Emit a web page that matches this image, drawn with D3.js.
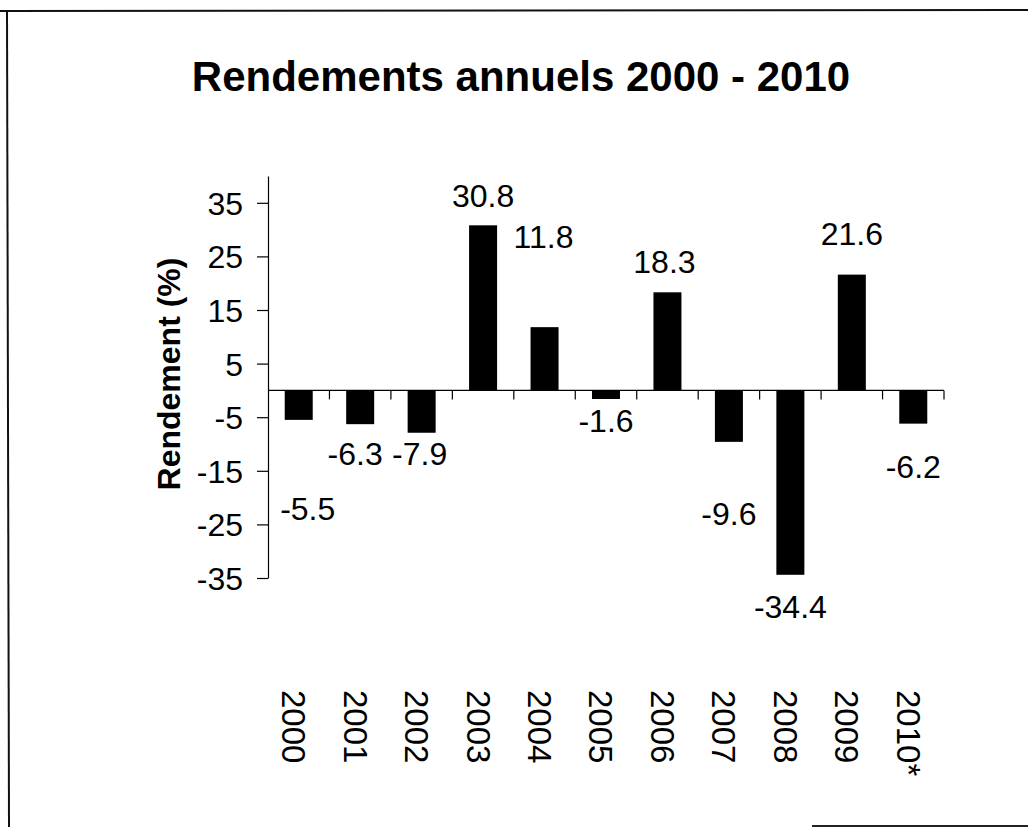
<!DOCTYPE html>
<html lang="fr">
<head>
<meta charset="UTF-8">
<title>Rendements annuels 2000 - 2010</title>
<script src="https://d3js.org/d3.v7.min.js"></script>
<style>
    body { margin: 0; background: #fff; }
    svg text { font-family: "Liberation Sans", Arial, sans-serif; fill: #000; }
</style>
</head>
<body>
<script>
    // data
    var years = ["2000", "2001", "2002", "2003", "2004", "2005", "2006", "2007", "2008", "2009", "2010*"];
    var returns = [-5.5, -6.3, -7.9, 30.8, 11.8, -1.6, 18.3, -9.6, -34.4, 21.6, -6.2];
    var yTicks = [-35, -25, -15, -5, 5, 15, 25, 35];

    // hand nudges for the value labels (the original moved them around)
    var labelDx = [9, -5, -2, 0, -1, 0, -3, 0, 0, 0, 0];
    var labelDy = [100, 41, 32, -18, -79, 33, -19, 83, 43, -30, 54];

    var width = 1028, height = 827;

    var svg = d3.select("body").append("svg")
        .attr("width", width)
        .attr("height", height);

    // frame of the scan: top, left and a piece of bottom
    svg.append("line").attr("x1", 0).attr("x2", width).attr("y1", 11).attr("y2", 10)
        .attr("stroke", "#111").attr("stroke-width", 2);
    svg.append("line").attr("x1", 7).attr("x2", 9).attr("y1", 10).attr("y2", height)
        .attr("stroke", "#111").attr("stroke-width", 2);
    svg.append("line").attr("x1", 812).attr("x2", width).attr("y1", 826).attr("y2", 826)
        .attr("stroke", "#222").attr("stroke-width", 2);

    svg.append("text")
        .attr("x", 521)
        .attr("y", 91)
        .attr("text-anchor", "middle")
        .attr("font-size", "42px")
        .attr("font-weight", "bold")
        .text("Rendements annuels 2000 - 2010");

    var x = d3.scaleBand()
        .domain(years)
        .range([268, 944])
        .paddingInner(0)
        .paddingOuter(0);

    var y = d3.scaleLinear()
        .domain([-35, 40])
        .range([578, 176]);

    var barWidth = 28;

    // y axis (plain hyphen for negatives, as in the original)
    var yAxis = svg.append("g")
        .attr("transform", "translate(268,0)")
        .call(d3.axisLeft(y)
            .tickValues(yTicks)
            .tickFormat(function (d) { return String(d); })
            .tickSize(11).tickPadding(14).tickSizeOuter(0));
    yAxis.select(".domain").attr("stroke", "#000").attr("stroke-width", 1.2);
    yAxis.selectAll(".tick line").attr("stroke", "#000").attr("stroke-width", 1.2);
    yAxis.selectAll(".tick text")
        .attr("font-size", "32px")
        .attr("font-family", "Liberation Sans, Arial, sans-serif")
        .attr("dy", "0.36em");

    svg.append("text")
        .attr("transform", "translate(180,374) rotate(-90)")
        .attr("text-anchor", "middle")
        .attr("font-size", "32px")
        .attr("font-weight", "bold")
        .text("Rendement (%)");

    // bars
    svg.selectAll(".bar")
        .data(returns)
        .enter()
        .append("rect")
        .attr("class", "bar")
        .attr("x", function (d, i) { return x(years[i]) + x.bandwidth() / 2 - barWidth / 2; })
        .attr("width", barWidth)
        .attr("y", function (d) { return y(Math.max(0, d)); })
        .attr("height", function (d) { return Math.abs(y(d) - y(0)); })
        .attr("fill", "#000");

    // x axis on the zero line, ticks between categories
    var x0 = y(0);
    svg.append("line")
        .attr("x1", x.range()[0]).attr("x2", x.range()[1])
        .attr("y1", x0).attr("y2", x0)
        .attr("stroke", "#000").attr("stroke-width", 1.2);
    svg.selectAll(".xtick")
        .data(years)
        .enter()
        .append("line")
        .attr("class", "xtick")
        .attr("x1", function (d) { return x(d) + x.bandwidth(); })
        .attr("x2", function (d) { return x(d) + x.bandwidth(); })
        .attr("y1", x0)
        .attr("y2", x0 + 9)
        .attr("stroke", "#000").attr("stroke-width", 1.2);

    // value labels
    svg.selectAll(".val")
        .data(returns)
        .enter()
        .append("text")
        .attr("class", "val")
        .attr("x", function (d, i) { return x(years[i]) + x.bandwidth() / 2 + labelDx[i]; })
        .attr("y", function (d, i) { return y(d) + labelDy[i]; })
        .attr("text-anchor", "middle")
        .attr("font-size", "32px")
        .text(function (d) { return d.toFixed(1); });

    // category labels, rotated to read downwards
    svg.selectAll(".year")
        .data(years)
        .enter()
        .append("text")
        .attr("class", "year")
        .attr("transform", function (d) {
            return "translate(" + (x(d) + x.bandwidth() / 2 - 5) + ",690) rotate(90)";
        })
        .attr("text-anchor", "start")
        .attr("dy", "0.35em")
        .attr("font-size", "33px")
        .text(function (d) { return d; });
</script>
</body>
</html>
